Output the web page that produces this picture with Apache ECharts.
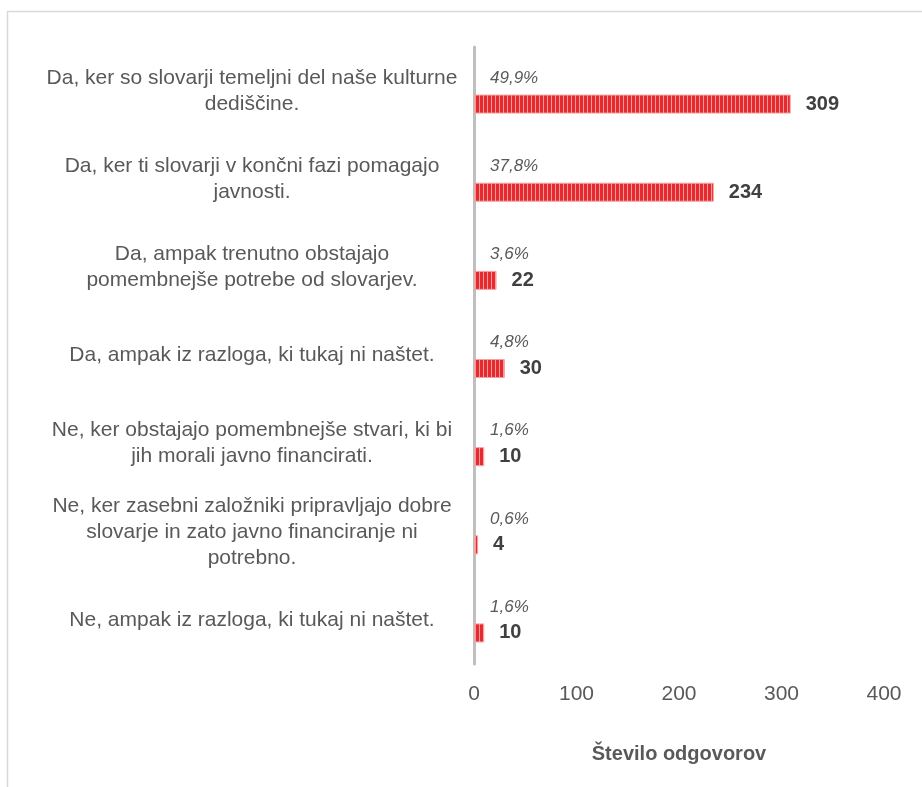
<!DOCTYPE html>
<html>
<head>
<meta charset="utf-8">
<script src="https://cdn.jsdelivr.net/npm/echarts@6/dist/echarts.min.js"></script>
<style>
html,body{margin:0;padding:0;background:#fff;}
#chart{width:922px;height:787px;}
</style>
</head>
<body>
<div id="chart"></div>
<script>
const categories = [
  "Da, ker so slovarji temeljni del naše kulturne\ndediščine.",
  "Da, ker ti slovarji v končni fazi pomagajo\njavnosti.",
  "Da, ampak trenutno obstajajo\npomembnejše potrebe od slovarjev.",
  "Da, ampak iz razloga, ki tukaj ni naštet.",
  "Ne, ker obstajajo pomembnejše stvari, ki bi\njih morali javno financirati.",
  "Ne, ker zasebni založniki pripravljajo dobre\nslovarje in zato javno financiranje ni\npotrebno.",
  "Ne, ampak iz razloga, ki tukaj ni naštet."
];
const counts = [309, 234, 22, 30, 10, 4, 10];
const percents = [49.9, 37.8, 3.6, 4.8, 1.6, 0.6, 1.6];
const xTicks = [0, 100, 200, 300, 400];
const axisTitle = "Število odgovorov";

const pat = document.createElement('canvas');
pat.width = 4; pat.height = 4;
const pc = pat.getContext('2d');
pc.fillStyle = '#e62a2d'; pc.fillRect(0, 0, 4, 4);
pc.fillStyle = '#f39a9b'; pc.fillRect(3, 0, 1, 4);

const chart = echarts.init(document.getElementById('chart'));
const font = '"Liberation Sans", Arial, sans-serif';
chart.setOption({
  backgroundColor: '#fff',
  animation: false,
  graphic: [{
    type: 'rect', left: 5, top: 9,
    shape: { width: 940, height: 800 },
    style: { fill: 'none', stroke: '#d9d9d9', lineWidth: 1.5 },
    silent: true, z: -1
  }],
  grid: { left: 474, right: 38, top: 47, bottom: 123, containLabel: false },
  xAxis: {
    type: 'value', min: xTicks[0], max: xTicks[xTicks.length - 1], interval: 100,
    axisLine: { show: false }, axisTick: { show: false }, splitLine: { show: false },
    axisLabel: { color: '#595959', fontSize: 21, margin: 20, fontFamily: font },
    name: axisTitle, nameLocation: 'middle', nameGap: 80,
    nameTextStyle: { color: '#595959', fontSize: 20, fontWeight: 'bold', fontFamily: font }
  },
  yAxis: {
    type: 'category', data: categories, inverse: true,
    axisLine: { show: true, lineStyle: { color: '#bfbfbf', width: 3 } },
    axisTick: { show: false },
    axisLabel: { color: '#595959', fontSize: 21, lineHeight: 26, align: 'center', margin: 222, fontFamily: font }
  },
  series: [
    {
      type: 'bar', data: percents, barWidth: 19, barGap: '37%',
      itemStyle: { color: 'rgba(0,0,0,0)' }, silent: true,
      label: {
        show: true, position: 'insideLeft', offset: [11, 0],
        formatter: p => p.value.toFixed(1).replace('.', ',') + '%',
        color: '#595959', fontStyle: 'italic', fontSize: 17, fontFamily: font
      }
    },
    {
      type: 'bar', data: counts, barWidth: 19,
      itemStyle: { color: { image: pat, repeat: 'repeat' }, borderColor: '#f4a3a3', borderWidth: 1 },
      label: {
        show: true, position: 'right', distance: 15,
        color: '#404040', fontWeight: 'bold', fontSize: 20, fontFamily: font
      }
    }
  ]
});
</script>
</body>
</html>
